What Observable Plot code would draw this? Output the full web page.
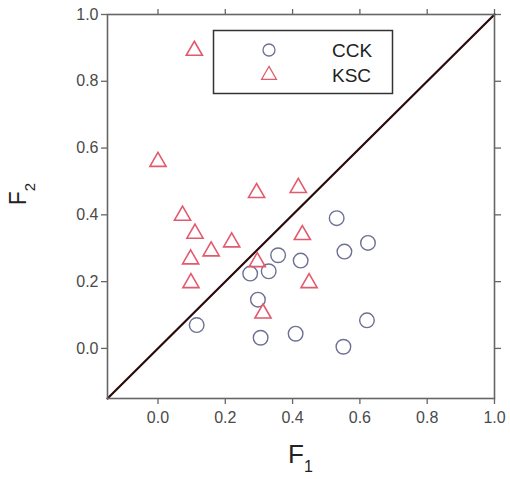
<!DOCTYPE html>
<html>
<head>
<meta charset="utf-8">
<script src="https://cdn.jsdelivr.net/npm/d3@7"></script>
<script src="https://cdn.jsdelivr.net/npm/@observablehq/plot@0.6"></script>
<style>
  html, body { margin: 0; padding: 0; background: #fff; }
  #chart { position: relative; width: 510px; height: 479px; }
</style>
</head>
<body>
<div id="chart"></div>
<script>
// ---- data ----
const domainX = [-0.15, 1.0];
const domainY = [-0.15, 1.0];
const xTicks = [0.0, 0.2, 0.4, 0.6, 0.8, 1.0];
const yTicks = [0.0, 0.2, 0.4, 0.6, 0.8, 1.0];

const cckF1 = [0.531, 0.624, 0.554, 0.357, 0.424, 0.274, 0.329, 0.297, 0.115, 0.305, 0.409, 0.621, 0.551];
const cckF2 = [0.390, 0.316, 0.290, 0.279, 0.263, 0.224, 0.231, 0.146, 0.070, 0.032, 0.044, 0.084, 0.005];

const kscF1 = [0.108, 0.000, 0.293, 0.417, 0.073, 0.110, 0.429, 0.219, 0.158, 0.097, 0.295, 0.098, 0.449, 0.312];
const kscF2 = [0.892, 0.559, 0.466, 0.481, 0.398, 0.344, 0.340, 0.318, 0.291, 0.267, 0.259, 0.196, 0.196, 0.105];

const seriesNames = ["CCK", "KSC"];
const seriesColors = ["#6d6f93", "#e25a6c"];
const seriesSymbols = ["circle", "triangle"];

// ---- build tables ----
const cck = cckF1.map((x, i) => ({x, y: cckF2[i]}));
const ksc = kscF1.map((x, i) => ({x, y: kscF2[i]}));
const diag = [{v: domainX[0]}, {v: domainX[1]}];

const W = 510, H = 479;
const mL = 107, mR = 16, mT = 14, mB = 81;

const plot = Plot.plot({
  width: W,
  height: H,
  marginLeft: mL,
  marginRight: mR,
  marginTop: mT,
  marginBottom: mB,
  x: {domain: domainX},
  y: {domain: domainY},
  style: {fontFamily: "'Liberation Sans', Arial, sans-serif", fontSize: "16px", color: "#4a4a4a", background: "#fff"},
  marks: [
    Plot.axisX({ticks: xTicks, tickFormat: d3.format(".1f"), tickSize: 6, tickPadding: 7, label: null, stroke: "#666", strokeWidth: 1.3}),
    Plot.axisX({anchor: "top", ticks: xTicks, tickFormat: () => "", tickSize: 6, label: null, stroke: "#666", strokeWidth: 1.3}),
    Plot.axisY({ticks: yTicks, tickFormat: d3.format(".1f"), tickSize: 6, tickPadding: 3, label: null, stroke: "#666", strokeWidth: 1.3}),
    Plot.axisY({anchor: "right", ticks: yTicks, tickFormat: () => "", tickSize: 6, label: null, stroke: "#666", strokeWidth: 1.3}),
    Plot.line(diag, {x: "v", y: "v", stroke: "#2a0a0a", strokeWidth: 2.2}),
    Plot.dot(cck, {x: "x", y: "y", symbol: seriesSymbols[0], r: 7.3, stroke: seriesColors[0], strokeWidth: 1.4, fill: "none"}),
    Plot.dot(ksc, {x: "x", y: "y", symbol: seriesSymbols[1], r: 6, stroke: seriesColors[1], strokeWidth: 1.6, fill: "none"}),
    Plot.frame({stroke: "#666", strokeWidth: 1.6})
  ]
});

document.getElementById("chart").appendChild(plot);

// ---- legend and axis titles ----
const svg = d3.select(plot);
const font = "'Liberation Sans', Arial, sans-serif";
const lg = svg.append("g");
lg.append("rect").attr("x", 213.5).attr("y", 30.5).attr("width", 179).attr("height", 63)
  .attr("fill", "#fff").attr("stroke", "#333").attr("stroke-width", 1.5);
const symGen = {circle: d3.symbolCircle, triangle: d3.symbolTriangle};
const legSizes = [Math.PI * 6 * 6, Math.PI * 5.5 * 5.5];
seriesNames.forEach((name, i) => {
  const cy = 50 + i * 25;
  lg.append("path")
    .attr("d", d3.symbol(symGen[seriesSymbols[i]], legSizes[i])())
    .attr("transform", `translate(269,${cy})`)
    .attr("fill", "none").attr("stroke", seriesColors[i]).attr("stroke-width", 1.3);
  lg.append("text").attr("x", 332).attr("y", cy).attr("dy", "0.35em")
    .attr("text-anchor", "start")
    .attr("font-family", font).attr("font-size", 19).attr("fill", "#222").text(name);
});

const xl = svg.append("text").attr("x", (mL + W - mR) / 2).attr("y", 463)
  .attr("text-anchor", "middle").attr("font-family", font).attr("fill", "#222");
xl.append("tspan").attr("font-size", 26).text("F");
xl.append("tspan").attr("font-size", 16).attr("dy", 9).text("1");

const yl = svg.append("text").attr("transform", "translate(26,194) rotate(-90)")
  .attr("text-anchor", "middle").attr("font-family", font).attr("fill", "#222");
yl.append("tspan").attr("font-size", 23).text("F");
yl.append("tspan").attr("font-size", 15).attr("dy", 9).text("2");
</script>
</body>
</html>
